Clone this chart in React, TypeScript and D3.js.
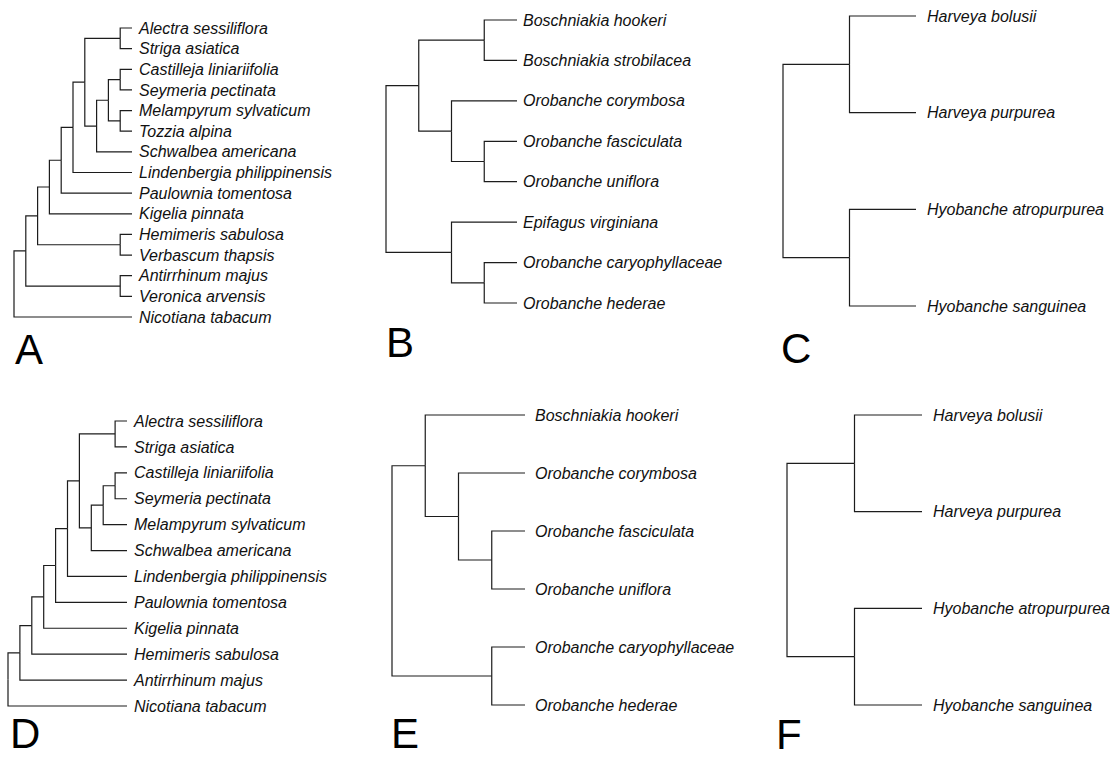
import React, { useEffect, useRef } from "react";
import * as d3 from "d3";

// trees as nested pairs, leaves are taxon names
const treeA = [
  [
    [
      [
        [
          [
            [
              ["Alectra sessiliflora", "Striga asiatica"],
              [
                [
                  ["Castilleja liniariifolia", "Seymeria pectinata"],
                  ["Melampyrum sylvaticum", "Tozzia alpina"],
                ],
                "Schwalbea americana",
              ],
            ],
            "Lindenbergia philippinensis",
          ],
          "Paulownia tomentosa",
        ],
        "Kigelia pinnata",
      ],
      ["Hemimeris sabulosa", "Verbascum thapsis"],
    ],
    ["Antirrhinum majus", "Veronica arvensis"],
  ],
  "Nicotiana tabacum",
];

const treeB = [
  [
    ["Boschniakia hookeri", "Boschniakia strobilacea"],
    ["Orobanche corymbosa", ["Orobanche fasciculata", "Orobanche uniflora"]],
  ],
  ["Epifagus virginiana", ["Orobanche caryophyllaceae", "Orobanche hederae"]],
];

const treeC = [
  ["Harveya bolusii", "Harveya purpurea"],
  ["Hyobanche atropurpurea", "Hyobanche sanguinea"],
];

const treeD = [
  [
    [
      [
        [
          [
            [
              ["Alectra sessiliflora", "Striga asiatica"],
              [
                [["Castilleja liniariifolia", "Seymeria pectinata"], "Melampyrum sylvaticum"],
                "Schwalbea americana",
              ],
            ],
            "Lindenbergia philippinensis",
          ],
          "Paulownia tomentosa",
        ],
        "Kigelia pinnata",
      ],
      "Hemimeris sabulosa",
    ],
    "Antirrhinum majus",
  ],
  "Nicotiana tabacum",
];

const treeE = [
  ["Boschniakia hookeri", ["Orobanche corymbosa", ["Orobanche fasciculata", "Orobanche uniflora"]]],
  ["Orobanche caryophyllaceae", "Orobanche hederae"],
];

const treeF = [
  ["Harveya bolusii", "Harveya purpurea"],
  ["Hyobanche atropurpurea", "Hyobanche sanguinea"],
];

const panelLetters = ["A", "B", "C", "D", "E", "F"];

// layout of each panel (pixels)
const panels = [
  { tree: treeA, rootX: 14, leafX: 132, top: 28, bottom: 317, gap: 7, lx: 15, ly: 364 },
  { tree: treeB, rootX: 386, leafX: 517, top: 20, bottom: 303, gap: 6, lx: 386, ly: 357 },
  { tree: treeC, rootX: 783, leafX: 916, top: 16, bottom: 306, gap: 11, lx: 781, ly: 363 },
  { tree: treeD, rootX: 8, leafX: 127, top: 421, bottom: 706, gap: 7, lx: 10, ly: 748 },
  { tree: treeE, rootX: 392, leafX: 525, top: 415, bottom: 705, gap: 10, lx: 391, ly: 748 },
  { tree: treeF, rootX: 787, leafX: 922, top: 415, bottom: 705, gap: 11, lx: 776, ly: 749 },
];

const App = () => {
  const ref = useRef(null);

  useEffect(() => {
    document.body.style.margin = "0";

    const width = 1112;
    const height = 758;

    const svg = d3.select(ref.current);
    svg.selectAll("*").remove();
    svg.attr("width", width).attr("height", height);

    svg.append("rect").attr("width", width).attr("height", height).attr("fill", "#fff");

    panels.forEach((p, i) => {
      const root = d3.hierarchy(p.tree, (d) => (Array.isArray(d) ? d : null));
      d3.cluster().nodeSize([1, 1]).separation(() => 1)(root);

      const leaves = root.leaves();
      const y = d3
        .scaleLinear()
        .domain(d3.extent(leaves, (d) => d.x))
        .range([p.top, p.bottom]);
      const x = d3.scaleLinear().domain([0, root.height]).range([p.rootX, p.leafX]);

      const g = svg.append("g");

      // elbow branches
      g.selectAll("path")
        .data(root.descendants().slice(1))
        .enter()
        .append("path")
        .attr("d", (d) => {
          const path = d3.path();
          path.moveTo(x(d.parent.y), y(d.parent.x));
          path.lineTo(x(d.parent.y), y(d.x));
          path.lineTo(x(d.y), y(d.x));
          return path.toString();
        })
        .attr("fill", "none")
        .attr("stroke", "#1c1c1c")
        .attr("stroke-width", 1.2);

      // taxon names
      g.selectAll("text")
        .data(leaves)
        .enter()
        .append("text")
        .attr("x", (d) => x(d.y) + p.gap)
        .attr("y", (d) => y(d.x))
        .attr("dy", "0.35em")
        .attr("font-family", "'Liberation Sans', Arial, sans-serif")
        .attr("font-style", "italic")
        .attr("font-size", "16px")
        .attr("fill", "#111")
        .text((d) => d.data);

      // panel letter
      svg
        .append("text")
        .attr("x", p.lx)
        .attr("y", p.ly)
        .attr("font-family", "'Liberation Sans', Arial, sans-serif")
        .attr("font-size", "42px")
        .attr("fill", "#000")
        .text(panelLetters[i]);
    });
  }, []);

  return <svg ref={ref} style={{ display: "block" }}></svg>;
};

export default App;
